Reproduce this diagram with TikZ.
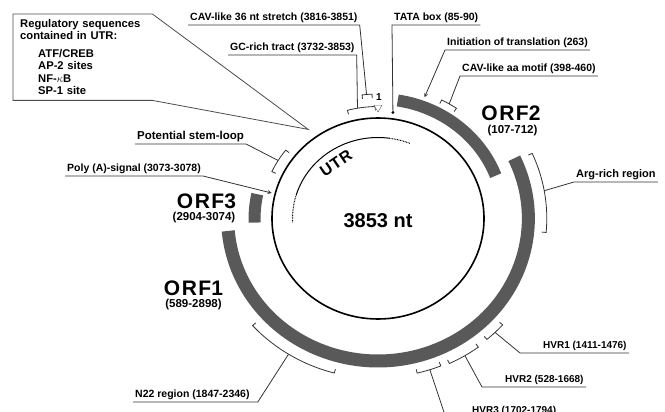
\documentclass[tikz,border=0pt]{standalone}
\usepackage{fontspec}
\setmainfont{Liberation Sans}
\usepackage{tikz}
\usetikzlibrary{positioning, arrows, shapes.geometric, calc}
\tikzstyle{leader} = [draw=black!80, line width=0.8pt]
\tikzstyle{lbl} = [font=\bfseries\fontsize{10.5}{12}\selectfont, inner xsep=2pt, inner ysep=1.5pt, text height=8pt, text depth=2.5pt, anchor=south west]
\tikzstyle{orf} = [draw=black!65, line width=12pt]
\tikzstyle{orfname} = [font=\bfseries\fontsize{21}{24}\selectfont, inner sep=0pt, text depth=0pt]
\tikzstyle{orfpos} = [font=\bfseries\fontsize{11.5}{13}\selectfont, inner sep=0pt]
\tikzstyle{bracket} = [draw=black!80, line width=0.8pt]

\begin{document}
\begin{tikzpicture}[x=1pt, y=-1pt]
        \clip (0,0) rectangle (665,412);

        % genome circle, positions clockwise from the top
        \begin{scope}[shift={(378,218.5)}, yscale=-1, xscale=1.055]
                \draw[line width=1.6pt] (0,0) circle[radius=100.5];
                \draw[line width=1pt] (82:81) arc[start angle=82, end angle=163, radius=81];
                \draw[line width=1pt, dash pattern=on 0.8pt off 0.8pt] (163:81) arc[start angle=163, end angle=183, radius=81];
                \draw[line width=1pt, dash pattern=on 0.8pt off 0.8pt] (68:81) arc[start angle=68, end angle=82, radius=81];

                \draw[orf] (81:119.5) arc[start angle=81, end angle=21, radius=119.5];
                \draw[orf] (168:117) arc[start angle=168, end angle=182, radius=117];
                \draw[orf, line width=13pt] (25:142.5) arc[start angle=25, end angle=-175, radius=142.5];

                \foreach \name/\r/\a/\b/\m in {cav36pt/124.5/97/92.6/95, gcpt/112/105/91.4/100,
                        aapt/133/63/56/59.5, argpt/160/24/-5/10, hvr1pt/159/-42/-49.5/-45.75,
                        hvr2pt/160/-53.5/-65/-59, hvr3pt/159/-68/-76.5/-72,
                        n22pt/160/-105/-138/-122, stempt/111/142/155/148.5}
                {
                        \draw[bracket] ({\a}:{\r-4}) -- ({\a}:\r) arc[start angle=\a, end angle=\b, radius=\r] -- ({\b}:{\r-4});
                        \coordinate (\name) at ({\m}:\r);
                }
                \coordinate (tatapt) at (82.4:107);
                \coordinate (initpt) at (70:129);
                \coordinate (polyapt) at (165.8:104);
                \coordinate (regpt) at (126.6:111);
        \end{scope}

        \node (size) [font=\bfseries\fontsize{20}{24}\selectfont] at (378,221) {3853 nt};
        \node (utr) [font=\bfseries\fontsize{16}{18}\selectfont, rotate=34, inner sep=0pt] at (336,163) {U\kern1pt T\kern1pt R};

        \node (onemark) [draw=black!60, fill=white, regular polygon, regular polygon sides=3, shape border rotate=180, inner sep=0pt, minimum size=9pt] at (378,107.5) {};
        \node (onelbl) [font=\bfseries\fontsize{10}{12}\selectfont, inner sep=0pt] at (379,97) {1};
        \fill (tatapt) circle[radius=1.6pt];

        \node (orf2lbl) [orfname] at (511,113.5) {O\kern1.5pt R\kern1.5pt F2};
        \node (orf2pos) [orfpos] at (512.5,130.5) {(107-712)};
        \node (orf3lbl) [orfname] at (206.5,201) {O\kern1.5pt R\kern1.5pt F3};
        \node (orf3pos) [orfpos] at (204,218) {(2904-3074)};
        \node (orf1lbl) [orfname] at (193.5,288.5) {O\kern1.5pt R\kern1.5pt F1};
        \node (orf1pos) [orfpos] at (193.5,305) {(589-2898)};

        \node (regbox) [anchor=north west, text width=125pt, inner xsep=7pt, minimum height=86pt, align=left, font=\bfseries\fontsize{11.2}{12.5}\selectfont] at (13,14)
                {Regulatory sequences\\contained in UTR:\\[5pt]\hspace*{18pt}ATF/CREB\\\hspace*{18pt}AP-2 sites\\\hspace*{18pt}NF-$\kappa$B\\\hspace*{18pt}SP-1 site};
        \draw[leader, draw=black!70] (regbox.north west) -- (regbox.north east) -- (regpt) -- (regbox.south east) -- (regbox.south west) -- cycle;

        \node (cav36lbl) [lbl] at (188,25) {CAV-like 36 nt stretch (3816-3851)};
        \node (gclbl) [lbl] at (228,55) {GC-rich tract (3732-3853)};
        \node (tatalbl) [lbl] at (392,25) {TATA box (85-90)};
        \node (initlbl) [lbl] at (445,50) {Initiation of translation (263)};
        \node (aalbl) [lbl] at (460,76) {CAV-like aa motif (398-460)};
        \node (arglbl) [lbl, font=\bfseries\fontsize{11}{12}\selectfont] at (574,182) {Arg-rich region};
        \node (hvr1lbl) [lbl, font=\bfseries\fontsize{10}{12}\selectfont] at (541,353) {HVR1 (1411-1476)};
        \node (hvr2lbl) [lbl, font=\bfseries\fontsize{10}{12}\selectfont] at (503,387) {HVR2 (528-1668)};
        \node (hvr3lbl) [lbl, font=\bfseries\fontsize{10}{12}\selectfont] at (470,418) {HVR3 (1702-1794)};
        \node (n22lbl) [lbl] at (133,402) {N22 region (1847-2346)};
        \node (stemlbl) [lbl, font=\bfseries\fontsize{11.5}{12}\selectfont] at (135,144) {Potential stem-loop};
        \node (polyalbl) [lbl] at (65,176) {Poly (A)-signal (3073-3078)};

        \draw[leader] (cav36lbl.south west) -- (cav36lbl.south east) -- (cav36pt);
        \draw[leader] (gclbl.south west) -- (gclbl.south east) -- (gcpt);
        \draw[leader] (tatalbl.south east) -- (tatalbl.south west) -- (tatapt);
        \draw[leader, -stealth] (initlbl.south east) -- (initlbl.south west) -- (initpt);
        \draw[leader] (aalbl.south east) -- (aalbl.south west) -- (aapt);
        \draw[leader] (arglbl.south east) -- (arglbl.south west) -- (argpt);
        \draw[leader] (hvr1lbl.south east) -- ([xshift=-21pt]hvr1lbl.south west) -- (hvr1pt);
        \draw[leader] (hvr2lbl.south east) -- ([xshift=-21pt]hvr2lbl.south west) -- (hvr2pt);
        \draw[leader] (hvr3lbl.south east) -- ([xshift=-24pt]hvr3lbl.south west) -- (hvr3pt);
        \draw[leader] (n22lbl.south west) -- ([xshift=6pt]n22lbl.south east) -- (n22pt);
        \draw[leader] (stemlbl.south west) -- (stemlbl.south east) -- (stempt);
        \draw[leader, -stealth] (polyalbl.south west) -- (polyalbl.south east) -- (polyapt);

\end{tikzpicture}
\end{document}
